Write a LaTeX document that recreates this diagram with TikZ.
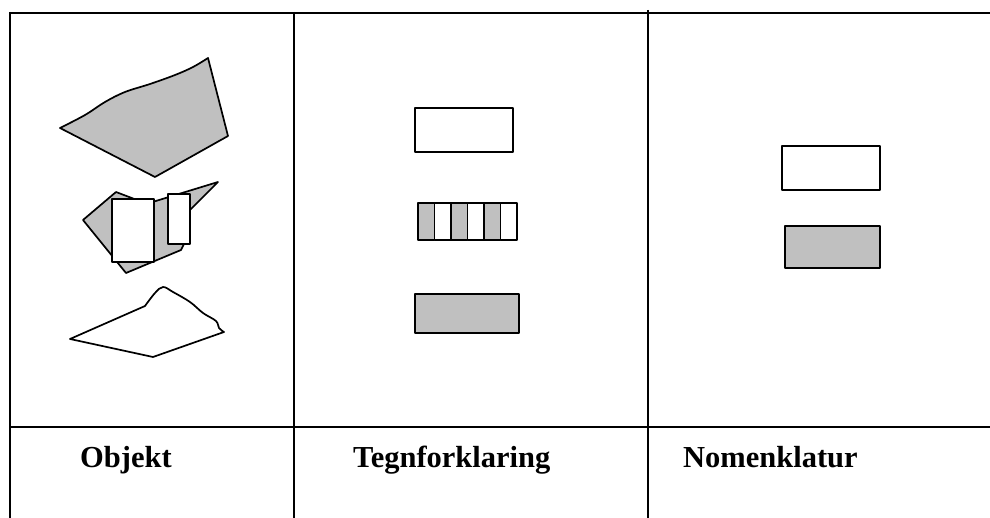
\documentclass[tikz,border=0pt]{standalone}
\usepackage{fontspec}
\newfontfamily\labfont{Liberation Serif}
\begin{document}
\begin{tikzpicture}[x=1pt,y=-1pt,
  rule/.style={line width=1.8pt},
  shp/.style={draw=black,line width=1.7pt,line join=round},
  grayshp/.style={shp,fill=fillgray},
  whiteshp/.style={shp,fill=white},
  lab/.style={font=\labfont\bfseries\fontsize{30.5}{36}\selectfont,inner sep=0pt,anchor=base west}]
\definecolor{fillgray}{HTML}{C0C0C0}
\useasboundingbox (0,0) rectangle (990,518);
% table rules
\draw[rule] (10,13) -- (990,13);
\draw[rule] (10,427) -- (990,427);
\draw[rule] (10,12) -- (10,518);
\draw[rule] (294,12) -- (294,518);
\draw[rule] (648,10) -- (648,518);
% column 1: objects
\filldraw[grayshp] plot[smooth,tension=0.6] coordinates {(60,128) (85,115) (105,102) (125,92) (150,84) (175,75) (193,67) (208,58)} -- (228,136) -- (155,177) -- cycle;
\filldraw[grayshp] (83,220) -- (116,192) -- (137,200) -- (146,204) -- (218,182) -- (187,213) -- (184,244) -- (181,250) -- (126,273) -- cycle;
\filldraw[whiteshp] (112,199) rectangle (154,262);
\filldraw[whiteshp] (168,194) rectangle (190,244);
\filldraw[whiteshp] (70,339) -- (145,306) -- plot[smooth,tension=0.6] coordinates {(145,306) (155,293) (163,287) (173,292) (190,302) (203,313) (216,321) (219,328) (224,332)} -- (153,357) -- cycle;
% column 2: legend
\filldraw[whiteshp] (415,108) rectangle (513,152);
\foreach \i in {0,...,5}{
  \pgfmathsetmacro{\xa}{418+\i*16.5}
  \pgfmathsetmacro{\xb}{418+(\i+1)*16.5}
  \ifodd\i
    \filldraw[whiteshp] (\xa,203) rectangle (\xb,240);
  \else
    \filldraw[grayshp] (\xa,203) rectangle (\xb,240);
  \fi
}
\filldraw[grayshp] (415,294) rectangle (519,333);
% column 3: nomenclature
\filldraw[whiteshp] (782,146) rectangle (880,190);
\filldraw[grayshp] (785,226) rectangle (880,268);
% labels
\node[lab] (objekt) at (80,467) {Objekt};
\node[lab] (tegn) at (353,467) {Tegnforklaring};
\node[lab] (nomen) at (683,467) {Nomenklatur};
\end{tikzpicture}
\end{document}
